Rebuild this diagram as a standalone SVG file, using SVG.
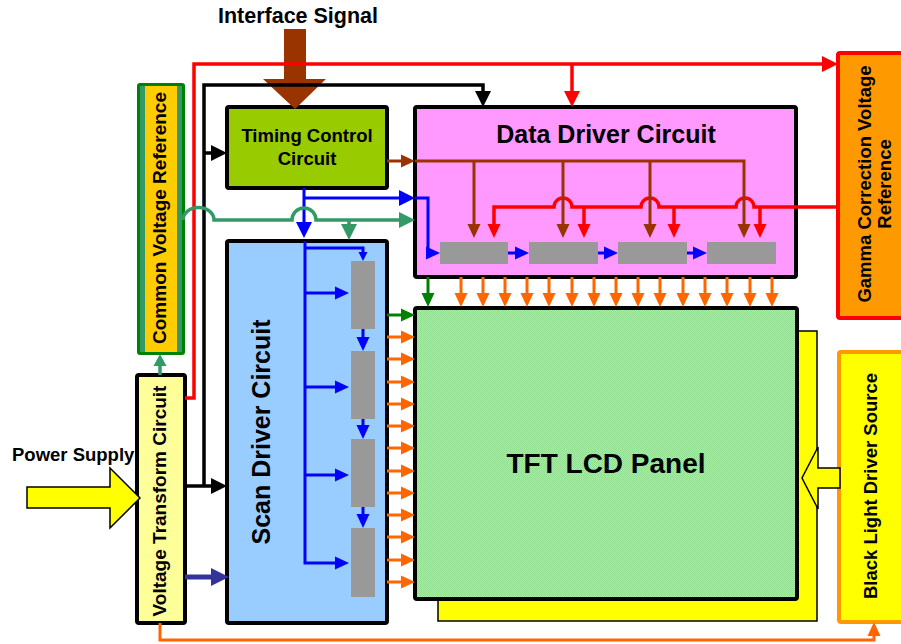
<svg xmlns="http://www.w3.org/2000/svg" width="901" height="644" viewBox="0 0 901 644">
<style>
  text { font-family: "Liberation Sans", Arial, sans-serif; font-weight: bold; fill: #000; }
  .box { stroke: #000; stroke-width: 4; }
  .gray { fill: #999999; }
  .c { fill: none; stroke-linejoin: miter; }
  .red { stroke: #ff0000; stroke-width: 3.5; }
  .blk { stroke: #000; stroke-width: 3.5; }
  .brn { stroke: #993300; stroke-width: 3; }
  .blu { stroke: #0000ff; stroke-width: 3; }
  .sea { stroke: #339966; stroke-width: 3.5; }
  .dg { stroke: #008000; stroke-width: 3; }
  .org { stroke: #ff6600; stroke-width: 3; }
  .nav { stroke: #333399; stroke-width: 5; }
</style>
<defs>
  <pattern id="hatch" width="2" height="2" patternUnits="userSpaceOnUse">
    <rect width="2" height="2" fill="#a8f0a8"/>
    <rect width="1" height="1" fill="#8fdc8f"/>
    <rect x="1" y="1" width="1" height="1" fill="#8fdc8f"/>
  </pattern>
  <marker id="redS" markerUnits="userSpaceOnUse" orient="auto" refX="6" refY="6.5" markerWidth="14" markerHeight="13" overflow="visible"><path d="M0,0 L14,6.5 L0,13 z" fill="#ff0000"/></marker>
  <marker id="redL" markerUnits="userSpaceOnUse" orient="auto" refX="6" refY="8" markerWidth="16" markerHeight="16" overflow="visible"><path d="M0,0 L16,8 L0,16 z" fill="#ff0000"/></marker>
  <marker id="blkL" markerUnits="userSpaceOnUse" orient="auto" refX="6" refY="8" markerWidth="16" markerHeight="16" overflow="visible"><path d="M0,0 L16,8 L0,16 z" fill="#000"/></marker>
  <marker id="brnS" markerUnits="userSpaceOnUse" orient="auto" refX="6" refY="6.5" markerWidth="14" markerHeight="13" overflow="visible"><path d="M0,0 L14,6.5 L0,13 z" fill="#993300"/></marker>
  <marker id="bluS" markerUnits="userSpaceOnUse" orient="auto" refX="6" refY="6.5" markerWidth="14" markerHeight="13" overflow="visible"><path d="M0,0 L14,6.5 L0,13 z" fill="#0000ff"/></marker>
  <marker id="bluL" markerUnits="userSpaceOnUse" orient="auto" refX="6" refY="8" markerWidth="16" markerHeight="16" overflow="visible"><path d="M0,0 L16,8 L0,16 z" fill="#0000ff"/></marker>
  <marker id="bluXS" markerUnits="userSpaceOnUse" orient="auto" refX="3" refY="4.5" markerWidth="9" markerHeight="9" overflow="visible"><path d="M0,0 L9,4.5 L0,9 z" fill="#0000ff"/></marker>
  <marker id="seaL" markerUnits="userSpaceOnUse" orient="auto" refX="6" refY="8" markerWidth="16" markerHeight="16" overflow="visible"><path d="M0,0 L16,8 L0,16 z" fill="#339966"/></marker>
  <marker id="seaS" markerUnits="userSpaceOnUse" orient="auto" refX="4" refY="6.5" markerWidth="12" markerHeight="13" overflow="visible"><path d="M0,0 L12,6.5 L0,13 z" fill="#339966"/></marker>
  <marker id="dgS" markerUnits="userSpaceOnUse" orient="auto" refX="6" refY="6.5" markerWidth="14" markerHeight="13" overflow="visible"><path d="M0,0 L14,6.5 L0,13 z" fill="#008000"/></marker>
  <marker id="orgS" markerUnits="userSpaceOnUse" orient="auto" refX="6" refY="6.5" markerWidth="14" markerHeight="13" overflow="visible"><path d="M0,0 L14,6.5 L0,13 z" fill="#ff6600"/></marker>
  <marker id="navL" markerUnits="userSpaceOnUse" orient="auto" refX="6" refY="9" markerWidth="18" markerHeight="18" overflow="visible"><path d="M0,0 L18,9 L0,18 z" fill="#333399"/></marker>
</defs>
<rect width="901" height="644" fill="#ffffff"/>

<text x="298" y="23" font-size="21.5" text-anchor="middle">Interface Signal</text>
<text x="12" y="461" font-size="18.5">Power Supply</text>

<g id="common-voltage-reference">
  <rect x="138.5" y="84.5" width="45" height="269" fill="#339966" stroke="#008000" stroke-width="3" rx="1.5"/>
  <rect x="145" y="86" width="32" height="266" fill="#ffcc00"/>
  <text transform="translate(166,218) rotate(-90)" font-size="19" text-anchor="middle">Common Voltage Reference</text>
</g>

<g id="voltage-transform-circuit">
  <rect class="box" x="137" y="375" width="48" height="248" rx="2" fill="#ffff99"/>
  <text transform="translate(166,501) rotate(-90)" font-size="19" text-anchor="middle">Voltage Transform Circuit</text>
</g>

<g id="timing-control-circuit">
  <rect class="box" x="227" y="107" width="160" height="81" rx="2" fill="#99cc00"/>
  <text x="307" y="142" font-size="18.5" text-anchor="middle">Timing Control</text>
  <text x="307" y="165" font-size="18.5" text-anchor="middle">Circuit</text>
</g>

<g id="data-driver-circuit">
  <rect class="box" x="415" y="107" width="381" height="170" rx="2" fill="#ff99ff"/>
  <text x="606" y="143" font-size="25" text-anchor="middle">Data Driver Circuit</text>
  <rect class="gray" x="440" y="242" width="68" height="22"/>
  <rect class="gray" x="529" y="242" width="69" height="22"/>
  <rect class="gray" x="618" y="242" width="69" height="22"/>
  <rect class="gray" x="707" y="242" width="69" height="22"/>
</g>

<g id="scan-driver-circuit">
  <rect class="box" x="227" y="241" width="160" height="382" rx="2" fill="#99ccff"/>
  <text transform="translate(270,432) rotate(-90)" font-size="25" text-anchor="middle">Scan Driver Circuit</text>
  <rect class="gray" x="351" y="261" width="24" height="68"/>
  <rect class="gray" x="351" y="351" width="24" height="68"/>
  <rect class="gray" x="351" y="439" width="24" height="68"/>
  <rect class="gray" x="351" y="528" width="24" height="69"/>
</g>

<g id="tft-lcd-panel">
  <rect x="438" y="331" width="379" height="290" fill="#ffff00" stroke="#000" stroke-width="1.5"/>
  <rect class="box" x="415" y="308" width="382" height="291" rx="2" fill="url(#hatch)"/>
  <text x="606" y="473" font-size="28" text-anchor="middle">TFT LCD Panel</text>
</g>

<g id="gamma-correction-voltage-reference">
  <rect x="838" y="53" width="75" height="265" rx="2" fill="#ff9900" stroke="#ff0000" stroke-width="4"/>
  <text transform="translate(871,184) rotate(-90)" font-size="18.5" text-anchor="middle">Gamma Correction Voltage</text>
  <text transform="translate(891,184) rotate(-90)" font-size="18.5" text-anchor="middle">Reference</text>
</g>

<g id="black-light-driver-source">
  <rect x="839" y="352" width="75" height="270" rx="2" fill="#ffff00" stroke="#ff9900" stroke-width="4"/>
  <text transform="translate(877,486) rotate(-90)" font-size="18.5" text-anchor="middle">Black Light Driver Source</text>
</g>

<g id="connectors">
  <!-- block arrows -->
  <polygon points="284,29 306,29 306,79 326,79 295,109 263,79 284,79" fill="#993300"/>
  <polygon points="27,487 110,487 110,468 140,498 110,528 110,508 27,508" fill="#ffff00" stroke="#000" stroke-width="1.5"/>
  <polygon points="840,468 818,468 818,447 802,478 818,509 818,488 840,488" fill="#ffff00" stroke="#000" stroke-width="1.5"/>

  <!-- red -->
  <path class="c red" d="M185,398 H194 V64 H828" marker-end="url(#redL)"/>
  <path class="c red" d="M572,64 V97" marker-end="url(#redL)"/>
  <path class="c red" d="M838,207 H754 A9,9 0 0 0 736,207 H659 A9,9 0 0 0 641,207 H572 A9,9 0 0 0 554,207 H494 V230" marker-end="url(#redS)"/>
  <path class="c red" d="M760,207 V230" marker-end="url(#redS)"/>
  <path class="c red" d="M674,207 V230" marker-end="url(#redS)"/>
  <path class="c red" d="M584,207 V230" marker-end="url(#redS)"/>

  <!-- black -->
  <path class="c blk" d="M185,486 H217" marker-end="url(#blkL)"/>
  <path class="c blk" d="M204,486 V85 H483 V97" marker-end="url(#blkL)"/>
  <path class="c blk" d="M204,153 H217" marker-end="url(#blkL)"/>

  <!-- brown -->
  <path class="c brn" d="M387,161 H407" marker-end="url(#brnS)"/>
  <path class="c brn" d="M415,161 H744 V230" marker-end="url(#brnS)"/>
  <path class="c brn" d="M474,161 V230" marker-end="url(#brnS)"/>
  <path class="c brn" d="M563,161 V230" marker-end="url(#brnS)"/>
  <path class="c brn" d="M650,161 V230" marker-end="url(#brnS)"/>

  <!-- blue -->
  <path class="c blu" d="M304,188 V228" marker-end="url(#bluL)"/>
  <path class="c blu" d="M304,198 H405" marker-end="url(#bluL)"/>
  <path class="c blu" d="M415,198 H428 V253 H432" marker-end="url(#bluS)"/>
  <path class="c blu" d="M508,253 H521" marker-end="url(#bluS)"/>
  <path class="c blu" d="M598,253 H610" marker-end="url(#bluS)"/>
  <path class="c blu" d="M687,253 H699" marker-end="url(#bluS)"/>
  <path class="c blu" d="M305,241 V563 H341" marker-end="url(#bluS)"/>
  <path class="c blu" d="M305,248 H363 V255" marker-end="url(#bluXS)"/>
  <path class="c blu" d="M305,293 H341" marker-end="url(#bluS)"/>
  <path class="c blu" d="M305,387 H341" marker-end="url(#bluS)"/>
  <path class="c blu" d="M305,475 H341" marker-end="url(#bluS)"/>
  <path class="c blu" d="M363,329 V343" marker-end="url(#bluS)"/>
  <path class="c blu" d="M363,419 V431" marker-end="url(#bluS)"/>
  <path class="c blu" d="M363,507 V520" marker-end="url(#bluS)"/>

  <!-- sea green -->
  <path class="c sea" d="M183,220 A15,12 0 0 1 214,220 H292 A12,12 0 0 1 316,220 H405" marker-end="url(#seaL)"/>
  <path class="c sea" d="M349,220 V230" marker-end="url(#seaL)"/>
  <path class="c sea" d="M160,375 V362" marker-end="url(#seaS)"/>

  <!-- dark green -->
  <path class="c dg" d="M428,277 V299" marker-end="url(#dgS)"/>
  <path class="c dg" d="M387,315 H407" marker-end="url(#dgS)"/>

  <!-- navy -->
  <path class="c nav" d="M185,577 H217" marker-end="url(#navL)"/>

  <!-- orange: scan driver to panel -->
  <path class="c org" d="M387,337 H407" marker-end="url(#orgS)"/>
  <path class="c org" d="M387,359 H407" marker-end="url(#orgS)"/>
  <path class="c org" d="M387,382 H407" marker-end="url(#orgS)"/>
  <path class="c org" d="M387,404 H407" marker-end="url(#orgS)"/>
  <path class="c org" d="M387,426 H407" marker-end="url(#orgS)"/>
  <path class="c org" d="M387,448 H407" marker-end="url(#orgS)"/>
  <path class="c org" d="M387,471 H407" marker-end="url(#orgS)"/>
  <path class="c org" d="M387,493 H407" marker-end="url(#orgS)"/>
  <path class="c org" d="M387,515 H407" marker-end="url(#orgS)"/>
  <path class="c org" d="M387,537 H407" marker-end="url(#orgS)"/>
  <path class="c org" d="M387,560 H407" marker-end="url(#orgS)"/>
  <path class="c org" d="M387,582 H407" marker-end="url(#orgS)"/>

  <!-- orange: data driver to panel -->
  <path class="c org" d="M461,277 V299" marker-end="url(#orgS)"/>
  <path class="c org" d="M483,277 V299" marker-end="url(#orgS)"/>
  <path class="c org" d="M505,277 V299" marker-end="url(#orgS)"/>
  <path class="c org" d="M527,277 V299" marker-end="url(#orgS)"/>
  <path class="c org" d="M549,277 V299" marker-end="url(#orgS)"/>
  <path class="c org" d="M572,277 V299" marker-end="url(#orgS)"/>
  <path class="c org" d="M594,277 V299" marker-end="url(#orgS)"/>
  <path class="c org" d="M616,277 V299" marker-end="url(#orgS)"/>
  <path class="c org" d="M638,277 V299" marker-end="url(#orgS)"/>
  <path class="c org" d="M660,277 V299" marker-end="url(#orgS)"/>
  <path class="c org" d="M683,277 V299" marker-end="url(#orgS)"/>
  <path class="c org" d="M705,277 V299" marker-end="url(#orgS)"/>
  <path class="c org" d="M727,277 V299" marker-end="url(#orgS)"/>
  <path class="c org" d="M750,277 V299" marker-end="url(#orgS)"/>
  <path class="c org" d="M772,277 V299" marker-end="url(#orgS)"/>

  <!-- orange: power to backlight -->
  <path class="c org" d="M160,623 V640 H874 V630" marker-end="url(#orgS)"/>
</g>
</svg>
